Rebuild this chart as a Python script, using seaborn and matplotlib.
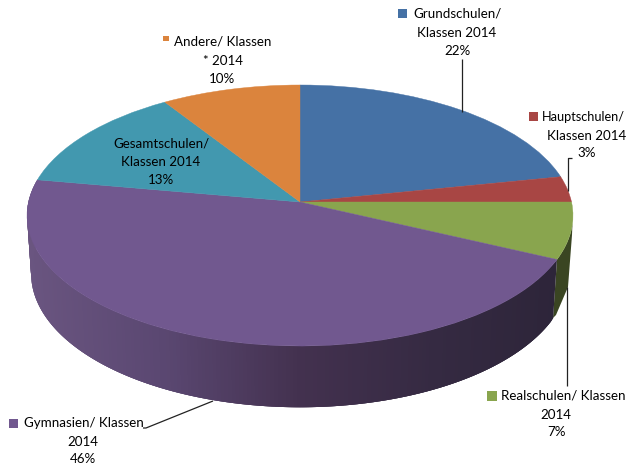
import numpy as np
import matplotlib
matplotlib.use("Agg")
import matplotlib.pyplot as plt
from matplotlib.transforms import Transform
import seaborn as sns

categories = ["Grundschulen/ Klassen 2014", "Hauptschulen/ Klassen 2014",
              "Realschulen/ Klassen 2014", "Gymnasien/ Klassen 2014",
              "Gesamtschulen/ Klassen 2014", "Andere/ Klassen * 2014"]
shares = [21.8, 3.2, 7.0, 45.8, 13.1, 9.1]
share_labels = ["22%", "3%", "7%", "46%", "13%", "10%"]
slice_colors = ["#4571A5", "#A84644", "#89A54E", "#71588F", "#4298AF", "#DB843D"]

sns.set_theme(style="white")
plt.rcParams["font.family"] = ["Lato", "DejaVu Sans"]

CX, CY, A, B, K = 300.0, 202.0, 271.5, 129.1, 0.1034


def project(x, y):
    d = 1 + K * y
    return CX + A * x / d, CY - B * y / d


def project_bottom(x, y):
    px, py = project(x, y)
    return CX + (px - CX) * 0.985, 273 + (py - 215) * 1.025


class Tilt(Transform):
    input_dims = 2
    output_dims = 2
    is_affine = False

    def transform_non_affine(self, values):
        v = np.asarray(values, dtype=float)
        px, py = project(v[:, 0], v[:, 1])
        return np.column_stack([px, py])


fig = plt.figure(figsize=(6.28, 4.68), dpi=100, facecolor="white")
ax = fig.add_axes([0, 0, 1, 1])

palette = sns.color_palette(slice_colors)
wedges, _ = ax.pie(shares, colors=palette, startangle=90, counterclock=False,
                   wedgeprops={"linewidth": 0})
ax.set_aspect("auto")
ax.set_xlim(0, 628)
ax.set_ylim(468, 0)
ax.axis("off")

tilt = Tilt()
for w, c in zip(wedges, palette):
    w.set_transform(tilt + ax.transData)
    w.set_clip_on(False)
    w.set_zorder(5)
    w.set_edgecolor(c)
    w.set_linewidth(0.3)

# rim of the disc
cum = np.cumsum(shares) / sum(shares)
ang = 90 - 360 * cum


def strip(t1, t2, color):
    th = np.radians(np.linspace(t1, t2, 40))
    tx, ty = project(np.cos(th), np.sin(th))
    bx, by = project_bottom(np.cos(th), np.sin(th))
    ax.fill(np.r_[tx, bx[::-1]], np.r_[ty, by[::-1]], color=color, lw=0, zorder=2)


# the green rim: top arc, then its outer edge down to the lower corner
th = np.radians(np.linspace(ang[1] - 5, ang[2], 40))
gx, gy = project(np.cos(th), np.sin(th))
ax.fill(np.r_[gx, 553, 556, 568, 572], np.r_[gy, 318, 315, 287, 235],
        color="#3A4522", lw=0, zorder=2)

ramp = sns.blend_palette(["#6A5580", "#5A4771", "#43314F", "#352A42", "#2C2438"], 256)
n_purple = 220
edges = np.linspace(ang[2], ang[3], n_purple + 1)
step = edges[1] - edges[0]
# each band runs under the next one, so no seam shows between them
for t1 in edges[:-1]:
    t2 = max(t1 + 3 * step, ang[3])
    m = np.radians(t1 + step / 2)
    px, _ = project(np.cos(m), np.sin(m))
    idx = int(np.clip((px - 27) / 546, 0, 1) * 255)
    strip(t1, t2, ramp[idx])

# leader lines
line_kw = dict(color="#222222", lw=0.9, zorder=6, solid_capstyle="butt")
ax.plot([462, 462], [59, 112], **line_kw)
ax.plot([572, 567.5, 567.5], [158, 158, 191], **line_kw)
ax.plot([567, 567], [287, 386], **line_kw)
ax.plot([213, 146, 143], [401, 428, 428], **line_kw)

# labels
FS = 9.6
TC = "#000000"


def head(x, y, s, size=FS):
    ax.text(x, y, s, ha="left", va="center", fontsize=size, color=TC, zorder=8)


def mid(x, y, s):
    ax.text(x, y, s, ha="center", va="center", fontsize=FS, color=TC, zorder=8)


def marker(x0, x1, y0, y1, color):
    ax.fill([x0, x1, x1, x0], [y0, y0, y1, y1], color=color, lw=0, zorder=8)


marker(398, 407, 9, 18, palette[0])
head(413, 14, "Grundschulen/")
mid(457, 33, "Klassen 2014")
mid(457, 51, share_labels[0])

marker(529, 538, 112, 121, palette[1])
head(542, 117, "Hauptschulen/", size=9.2)
mid(587, 136, "Klassen 2014")
mid(587, 153, share_labels[1])

marker(487, 497, 391, 401, palette[2])
head(501, 396, "Realschulen/ Klassen")
mid(556, 415, "2014")
mid(556, 432, share_labels[2])

marker(9, 18, 419, 428, palette[3])
head(24, 423, "Gymnasien/ Klassen")
mid(83, 442, "2014")
mid(83, 459, share_labels[3])

mid(161, 144, "Gesamtschulen/")
mid(161, 162, "Klassen 2014")
mid(161, 180, share_labels[4])

marker(163, 169, 36, 41, palette[5])
head(174, 42, "Andere/ Klassen")
mid(223, 61, "* 2014")
mid(222, 79, share_labels[5])

fig.savefig("out.png", dpi=100, facecolor="white")
